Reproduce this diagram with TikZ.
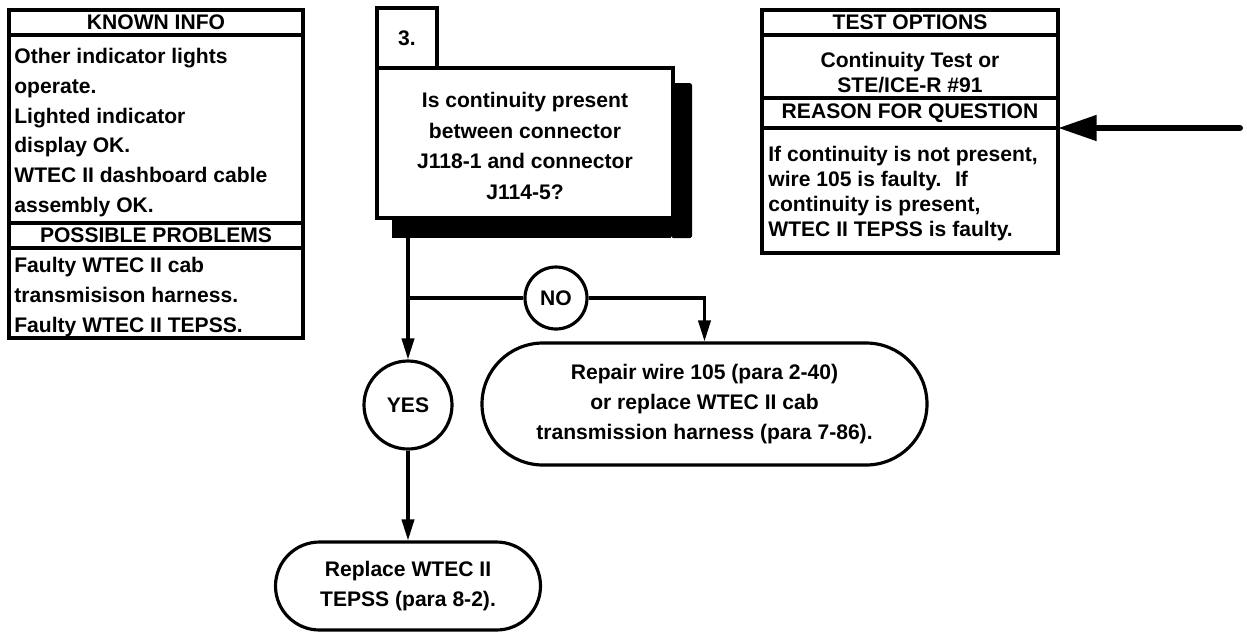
\documentclass[tikz,border=0pt]{standalone}
\usepackage{fontspec}
\setmainfont{Liberation Sans}
\usetikzlibrary{arrows.meta,positioning,calc}

\newcommand{\pxu}{0.02cm}

\tikzset{
  every node/.style={font=\bfseries\fontsize{12}{16.9}\selectfont},
  band/.style={draw, line width=1.8pt, inner sep=0pt, outer sep=0pt, anchor=north west, minimum width=#1},
  listtext/.style={inner sep=0pt, anchor=north west, align=left},
  testfont/.style={font=\bfseries\fontsize{12}{14.2}\selectfont},
  flowtext/.style={font=\bfseries\fontsize{12}{17.3}\selectfont, align=center},
  answer/.style={draw, circle, line width=1.8pt, inner sep=0pt, fill=white},
  action/.style={draw, rectangle, line width=1.8pt, fill=white, flowtext},
  flowline/.style={line width=1.8pt},
  flow/.style={line width=1.8pt, -{Triangle[length=12pt,width=7pt]}},
  bigarrow/.style={line width=3.4pt, line cap=round, -{Triangle[length=22pt,width=14pt]}}
}

\begin{document}
\begin{tikzpicture}[x=\pxu, y=-\pxu]
\useasboundingbox (0,0) rectangle (1247,633);

% ================= LEFT: KNOWN INFO =================
\node[band=294*\pxu, minimum height=25*\pxu] (knownhead) at (9,10) {KNOWN INFO};
\node[band=294*\pxu, minimum height=188*\pxu] (knownbody) at (knownhead.south west) {};
\node[listtext] (knowntext) at ($(knownbody.north west)+(5,13)$)
  {Other indicator lights\\operate.\\Lighted indicator\\display OK.\\WTEC II dashboard cable\\assembly OK.};
\node[band=294*\pxu, minimum height=25*\pxu] (probhead) at (knownbody.south west) {POSSIBLE PROBLEMS};
\node[band=294*\pxu, minimum height=90*\pxu] (probbody) at (probhead.south west) {};
\node[listtext] (probtext) at ($(probbody.north west)+(5,9)$)
  {Faulty WTEC II cab\\transmisison harness.\\Faulty WTEC II TEPSS.};

% ================= RIGHT: TEST OPTIONS =================
\node[band=296*\pxu, minimum height=25*\pxu] (testhead) at (762,10) {TEST OPTIONS};
\node[band=296*\pxu, minimum height=63*\pxu] (testbody) at (testhead.south west) {};
\node[align=center, testfont] (testtext) at ($(testbody.center)+(0,6)$)
  {Continuity Test or\\STE/ICE-R \#91};
\node[band=296*\pxu, minimum height=30*\pxu] (reasonhead) at (testbody.south west) {REASON FOR QUESTION};
\node[band=296*\pxu, minimum height=125*\pxu] (reasonbody) at (reasonhead.south west) {};
\node[listtext, testfont] (reasontext) at ($(reasonbody.north west)+(6,18)$)
  {If continuity is not present,\\wire 105 is faulty.~ If\\continuity is present,\\WTEC II TEPSS is faulty.};

% incoming arrow
\coordinate (feed) at ($(reasonhead.south east)+(182,0)$);
\draw[bigarrow] (feed) -- (reasonhead.south east);

% ================= QUESTION 3 =================
\node[band=60*\pxu, minimum height=60*\pxu] (numbox) at (377,8) {3.};
\node[band=296*\pxu, minimum height=150*\pxu, fill=white] (question) at (numbox.south west) {};
\fill ($(question.north east)+(-2,15)$) rectangle ($(question.south west)+(15,20)$);
\fill[rounded corners=1pt] ($(question.north east)+(-2,15)$) rectangle ($(question.south east)+(19,20)$);
\node[band=296*\pxu, minimum height=150*\pxu, fill=white] (qframe) at (numbox.south west) {};
\node[flowtext, font=\bfseries\fontsize{12}{17.5}\selectfont] (qtext) at ($(qframe.center)+(0,3)$)
  {Is continuity present\\between connector\\J118-1 and connector\\J114-5?};

% ================= ANSWERS =================
\node[answer, minimum size=88*\pxu] (yes) at (408,405) {YES};
\node[answer, minimum size=62*\pxu] (no) at (556,298) {NO};

\node[action, minimum width=445*\pxu, minimum height=122*\pxu, rounded corners=1.22cm] (repair) at (704.5,404)
  {Repair wire 105 (para 2-40)\\or replace WTEC II cab\\transmission harness (para 7-86).};
\node[action, minimum width=265*\pxu, minimum height=88*\pxu, rounded corners=0.88cm] (replace) at (408,586)
  {Replace WTEC II\\TEPSS (para 8-2).};

% connectors
\coordinate (split) at (yes |- no);
\draw[flow] (qframe.south -| yes) -- (yes.north);
\draw[flowline] (split) -- (no.west);
\draw[flow] (no.east) -| (repair.north);
\draw[flow] (yes.south) -- (replace.north);

\end{tikzpicture}
\end{document}
